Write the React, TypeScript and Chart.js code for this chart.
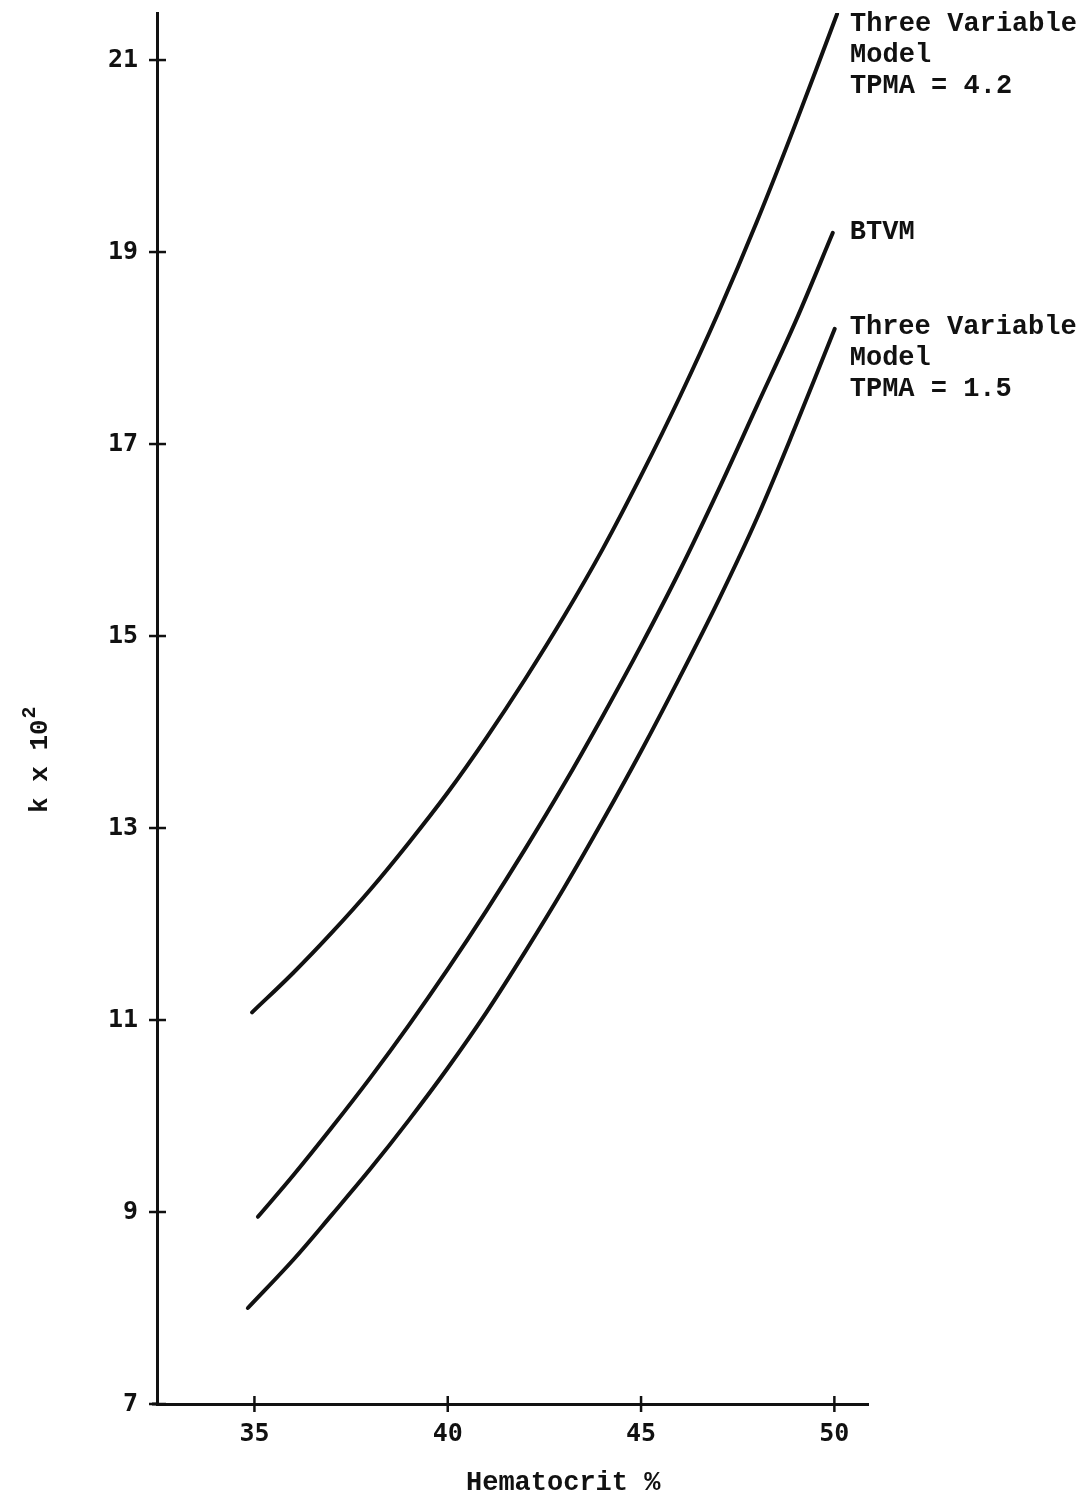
import React, { useEffect, useRef } from "react";
import { Chart, registerables } from "chart.js";

Chart.register(...registerables);

// Tick values
const xTicks = [35, 40, 45, 50];
const yTicks = [7, 9, 11, 13, 15, 17, 19, 21];

// Three Variable Model, TPMA = 4.2
const tpma42X = [34.94, 36, 37, 38, 39, 40, 41, 42, 43, 44, 45, 46, 47, 48, 49, 50.07];
const tpma42Y = [11.08, 11.49, 11.91, 12.36, 12.85, 13.37, 13.94, 14.55, 15.2, 15.9, 16.67, 17.49, 18.37, 19.32, 20.34, 21.48];

// BTVM
const btvmX = [35.09, 36, 37, 38, 39, 40, 41, 42, 43, 44, 45, 46, 47, 48, 49, 49.96];
const btvmY = [8.95, 9.38, 9.88, 10.4, 10.95, 11.53, 12.14, 12.78, 13.45, 14.16, 14.9, 15.68, 16.52, 17.4, 18.28, 19.2];

// Three Variable Model, TPMA = 1.5
const tpma15X = [34.83, 36, 37, 38, 39, 40, 41, 42, 43, 44, 45, 46, 47, 48, 49, 50.01];
const tpma15Y = [8.0, 8.5, 8.97, 9.45, 9.96, 10.5, 11.08, 11.71, 12.37, 13.07, 13.8, 14.57, 15.37, 16.23, 17.19, 18.2];

// Curve labels
const label42 = ["Three Variable", "Model", "TPMA = 4.2"];
const labelBtvm = ["BTVM"];
const label15 = ["Three Variable", "Model", "TPMA = 1.5"];

const xTitle = "Hematocrit %";
const yTitleMain = "k x 10";
const yTitleSup = "2";

const toPts = (xs: number[], ys: number[]) => xs.map((x, i) => ({ x, y: ys[i] }));

const INK = "#111111";
const TEXT_FONT = "bold 27px 'Liberation Mono', 'Courier New', monospace";

export default function App() {
  const ref = useRef<HTMLCanvasElement | null>(null);

  useEffect(() => {
    document.body.style.margin = "0";
    const canvas = ref.current;
    if (!canvas) return;

    const decor = {
      id: "decor",
      afterDraw(chart: any) {
        const ctx = chart.ctx;
        const xs = chart.scales.x;
        const ys = chart.scales.y;
        const area = chart.chartArea;
        ctx.save();
        ctx.strokeStyle = INK;
        ctx.fillStyle = INK;
        ctx.lineCap = "butt";
        // x-axis small extension to the left of the y-axis
        ctx.lineWidth = 3;
        ctx.beginPath();
        ctx.moveTo(area.left - 5, area.bottom);
        ctx.lineTo(area.left, area.bottom);
        ctx.stroke();
        // crossing tick marks
        ctx.lineWidth = 2.5;
        yTicks.forEach((v) => {
          const py = ys.getPixelForValue(v);
          ctx.beginPath();
          ctx.moveTo(area.left - 8, py);
          ctx.lineTo(area.left + 9, py);
          ctx.stroke();
        });
        xTicks.forEach((v) => {
          const px = xs.getPixelForValue(v);
          ctx.beginPath();
          ctx.moveTo(px, area.bottom - 8);
          ctx.lineTo(px, area.bottom + 8);
          ctx.stroke();
        });

        // curve labels
        ctx.font = TEXT_FONT;
        ctx.textAlign = "left";
        ctx.textBaseline = "alphabetic";
        const drawLabel = (lines: string[], xv: number, yv: number, dx: number, dy: number) => {
          const px = xs.getPixelForValue(xv) + dx;
          const py = ys.getPixelForValue(yv) + dy;
          lines.forEach((t, i) => ctx.fillText(t, px, py + i * 31));
        };
        drawLabel(label42, tpma42X[tpma42X.length - 1], tpma42Y[tpma42Y.length - 1], 13, 17);
        drawLabel(labelBtvm, btvmX[btvmX.length - 1], btvmY[btvmY.length - 1], 17, 6);
        drawLabel(label15, tpma15X[tpma15X.length - 1], tpma15Y[tpma15Y.length - 1], 15, 5);

        // x-axis title
        ctx.textAlign = "left";
        ctx.fillText(xTitle, 466, 1490);

        // y-axis title (rotated)
        ctx.save();
        ctx.translate(47, 813);
        ctx.rotate(-Math.PI / 2);
        ctx.font = "bold 26px 'Liberation Mono', 'Courier New', monospace";
        ctx.textAlign = "left";
        ctx.fillText(yTitleMain, 0, 0);
        const w = ctx.measureText(yTitleMain).width;
        ctx.font = "bold 20px 'Liberation Mono', 'Courier New', monospace";
        ctx.fillText(yTitleSup, w + 1, -12);
        ctx.restore();

        ctx.restore();
      },
    };

    const lineStyle = {
      showLine: true,
      borderColor: INK,
      backgroundColor: INK,
      borderWidth: 4,
      pointRadius: 0,
      tension: 0.35,
      fill: false,
      borderCapStyle: "round" as const,
    };

    const chart = new Chart(canvas, {
      type: "scatter",
      data: {
        datasets: [
          { label: "TPMA = 4.2", data: toPts(tpma42X, tpma42Y), ...lineStyle },
          { label: "BTVM", data: toPts(btvmX, btvmY), ...lineStyle },
          { label: "TPMA = 1.5", data: toPts(tpma15X, tpma15Y), ...lineStyle },
        ],
      },
      options: {
        animation: false,
        responsive: false,
        devicePixelRatio: 1,
        layout: { padding: { top: 13, right: 221, left: 0, bottom: 0 } },
        plugins: { legend: { display: false }, tooltip: { enabled: false } },
        scales: {
          x: {
            type: "linear",
            min: 32.48,
            max: 50.87,
            afterBuildTicks: (s: any) => {
              s.ticks = xTicks.map((v) => ({ value: v }));
            },
            afterFit: (s: any) => {
              s.height = 94;
              s.paddingLeft = 0;
              s.paddingRight = 0;
            },
            grid: { display: false, drawTicks: false },
            border: { display: true, color: INK, width: 3 },
            ticks: {
              color: INK,
              padding: 15,
              maxRotation: 0,
              autoSkip: false,
              font: { family: "'DejaVu Sans Mono', monospace", size: 25, weight: "bold" },
              callback: (v: any) => String(v),
            },
          },
          y: {
            type: "linear",
            min: 7,
            max: 21.49,
            afterBuildTicks: (s: any) => {
              s.ticks = yTicks.map((v) => ({ value: v }));
            },
            afterFit: (s: any) => {
              s.width = 157;
              s.paddingTop = 0;
              s.paddingBottom = 0;
            },
            grid: { display: false, drawTicks: false },
            border: { display: true, color: INK, width: 3 },
            ticks: {
              color: INK,
              padding: 19,
              autoSkip: false,
              font: { family: "'DejaVu Sans Mono', monospace", size: 25, weight: "bold" },
              callback: (v: any) => String(v),
            },
          },
        },
      },
      plugins: [decor],
    });

    return () => chart.destroy();
  }, []);

  return (
    <div style={{ width: 1089, height: 1498, background: "#ffffff" }}>
      <canvas ref={ref} width={1089} height={1498} style={{ display: "block" }} />
    </div>
  );
}
